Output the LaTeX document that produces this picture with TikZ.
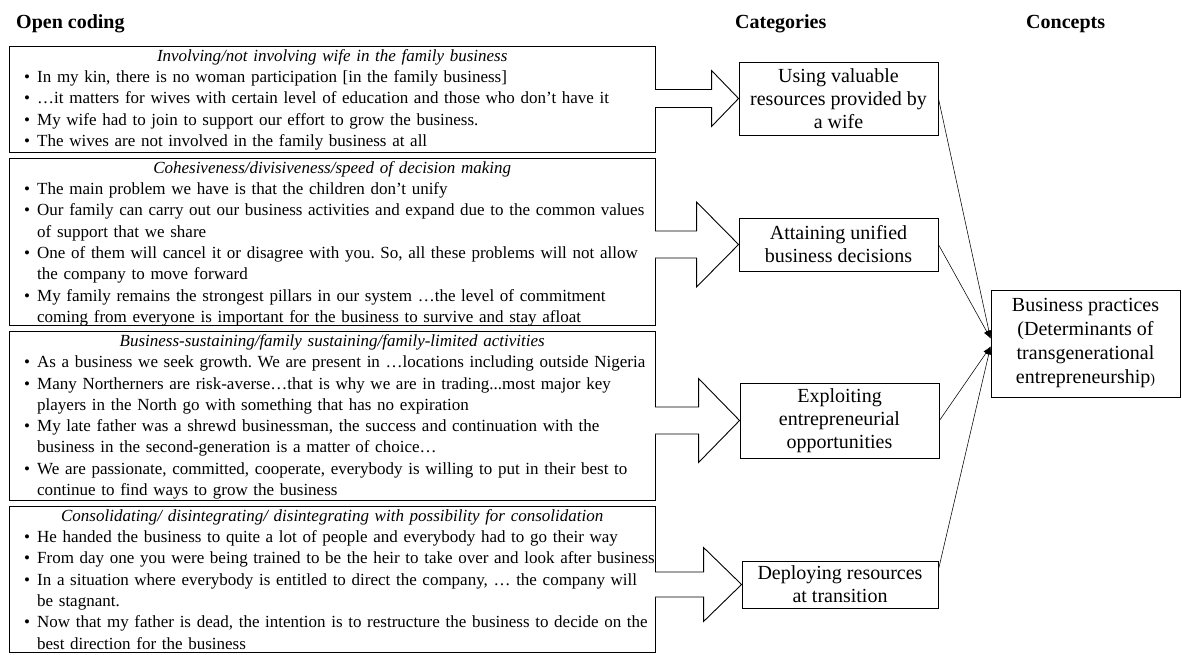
\documentclass[tikz,border=0pt]{standalone}
\usepackage{fontspec}
\setmainfont{Liberation Serif}
\usetikzlibrary{calc,arrows.meta}

% bullet line with hanging indent for wrapped quotations
\newcommand\bul{\par\hangindent=21pt\hangafter=1\noindent\makebox[21pt][l]{\hspace{8pt}•}}
% line break inside a bullet, keeping the hanging indent
\newcommand\nl{\hfil\break}
% italic theme heading, centred over the quotation box
\newcommand\theme[1]{\noindent\makebox[632pt][c]{\itshape #1}}

% open block arrow from a quotation box to its category box
% #1 box, #2 category, #3 half shaft width, #4 half head height, #5 head length
\newcommand\blockarrow[5]{%
  \coordinate (#2-s) at (#1.east |- #2.west);
  \fill[white] ($(#2-s)+(-2,-#3)$) -- ($(#2.west)+(-#5,-#3)$) -- ($(#2.west)+(-#5,-#4)$)
    -- (#2.west) -- ($(#2.west)+(-#5,#4)$) -- ($(#2.west)+(-#5,#3)$) -- ($(#2-s)+(-2,#3)$) -- cycle;
  \draw[barrow] ($(#2-s)+(-0.5,-#3)$) -- ($(#2.west)+(-#5,-#3)$) -- ($(#2.west)+(-#5,-#4)$)
    -- (#2.west) -- ($(#2.west)+(-#5,#4)$) -- ($(#2.west)+(-#5,#3)$) -- ($(#2-s)+(-0.5,#3)$);
}

\begin{document}
\frenchspacing
\begin{tikzpicture}[x=1pt,y=-1pt,
  hd/.style={anchor=base west, inner sep=0, font=\fontsize{20}{24}\selectfont\bfseries},
  obox/.style={draw, line width=1pt, inner sep=0},
  txt/.style={anchor=base west, inner sep=0, text width=700pt,
    font=\fontsize{17}{21.3}\selectfont\raggedright\frenchspacing},
  cat/.style={draw, line width=0.9pt, inner sep=0, align=center,
    font=\fontsize{20}{23}\selectfont},
  barrow/.style={line width=0.9pt, line join=miter},
  link/.style={line width=0.55pt, -{Latex[length=8pt,width=6pt]}}]

\useasboundingbox (0,0) rectangle (1182,655);

% column headings
\node[hd] (hopen) at (16,29) {Open coding};
\node[hd] (hcat) at (735,29) {Categories};
\node[hd] (hcon) at (1026,29) {Concepts};

% quotation boxes
\node[obox, minimum width=646, minimum height=106.6] (b1) at (332,99.6) {};
\node[obox, minimum width=646, minimum height=166.9] (b2) at (332,241.75) {};
\node[obox, minimum width=646, minimum height=169.4] (b3) at (332,416.1) {};
\node[obox, minimum width=646, minimum height=145.8] (b4) at (332,579.1) {};

\node[txt] (t1) at (16,61.3) {\theme{Involving/not involving wife in the family business}
\bul In my kin, there is no woman participation [in the family business]
\bul …it matters for wives with certain level of education and those who don’t have it
\bul My wife had to join to support our effort to grow the business.
\bul The wives are not involved in the family business at all\par};

\node[txt] (t2) at (16,173.3) {\theme{Cohesiveness/divisiveness/speed of decision making}
\bul The main problem we have is that the children don’t unify
\bul Our family can carry out our business activities and expand due to the common values\nl of support that we share
\bul One of them will cancel it or disagree with you. So, all these problems will not allow\nl the company to move forward
\bul My family remains the strongest pillars in our system …the level of commitment\nl coming from everyone is important for the business to survive and stay afloat\par};

\node[txt] (t3) at (16,346.4) {\theme{Business-sustaining/family sustaining/family-limited activities}
\bul As a business we seek growth. We are present in …locations including outside Nigeria
\bul Many Northerners are risk-averse…that is why we are in trading...most major key\nl players in the North go with something that has no expiration
\bul My late father was a shrewd businessman, the success and continuation with the\nl business in the second-generation is a matter of choice…
\bul We are passionate, committed, cooperate, everybody is willing to put in their best to\nl continue to find ways to grow the business\par};

\node[txt] (t4) at (16,521.2) {\theme{Consolidating/ disintegrating/ disintegrating with possibility for consolidation}
\bul He handed the business to quite a lot of people and everybody had to go their way
\bul From day one you were being trained to be the heir to take over and look after business
\bul In a situation where everybody is entitled to direct the company, … the company will\nl be stagnant.
\bul Now that my father is dead, the intention is to restructure the business to decide on the\nl best direction for the business\par};

% categories
\node[cat, minimum width=199, minimum height=73] (c1) at (838.5,98.5) {Using valuable\\resources provided by\\a wife};
\node[cat, minimum width=199, minimum height=53] (c2) at (838.5,244.5) {Attaining unified\\business decisions};
\node[cat, minimum width=199, minimum height=75] (c3) at (839.5,420.5) {Exploiting\\entrepreneurial\\opportunities};
\node[cat, minimum width=196, minimum height=47] (c4) at (840,584.5) {Deploying resources\\at transition};

% concept
\node[cat, minimum width=189, minimum height=107, font=\fontsize{20}{24}\selectfont] (k) at (1085.5,343.5)
  {Business practices\\(Determinants of\\transgenerational\\entrepreneurship{\fontsize{14}{24}\selectfont)}};

% block arrows from quotations to categories
\blockarrow{b1}{c1}{9}{28}{27}
\blockarrow{b2}{c2}{13.5}{42.5}{42}
\blockarrow{b3}{c3}{13.5}{42}{41}
\blockarrow{b4}{c4}{12.5}{37}{38}

% links from categories to the concept
\draw[link] (c1.east) -- ($(k.west)+(0,-5)$);
\draw[link] (c2.east) -- ($(k.west)+(0,-5)$);
\draw[link] (c3.east) -- ($(k.west)+(0,3)$);
\draw[link] ($(c4.east)+(0,-15)$) -- ($(k.west)+(0,3)$);
\end{tikzpicture}
\end{document}
